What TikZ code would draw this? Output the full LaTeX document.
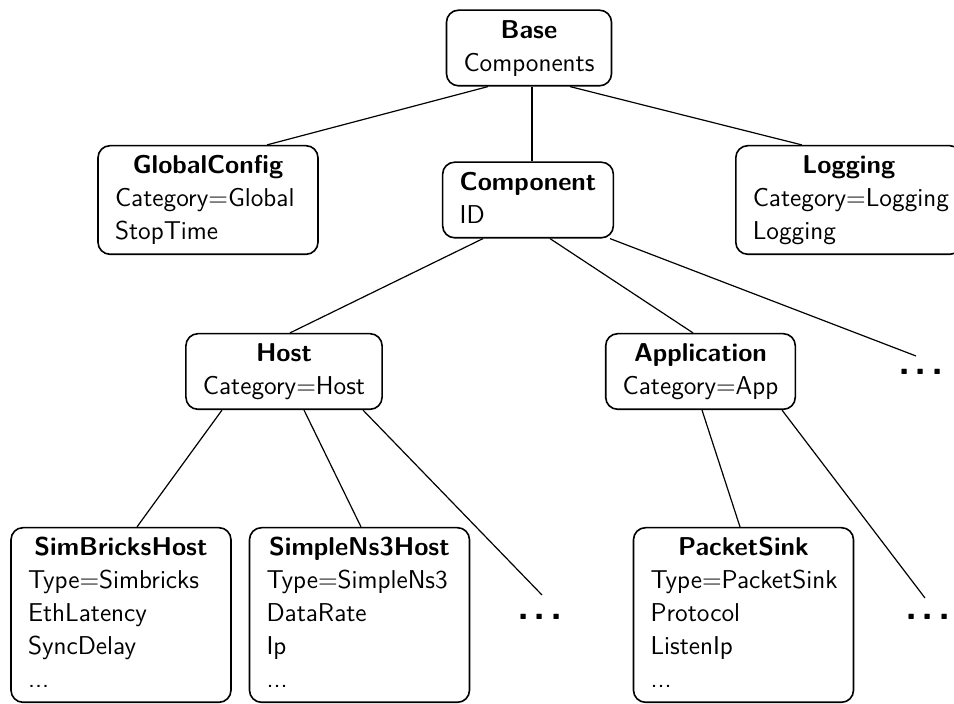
\documentclass[tikz,border=0pt]{standalone}
\usetikzlibrary{calc}
\newcommand{\mytab}[2]{\begin{tabular}{@{}#1@{}}#2\end{tabular}}
\newcommand{\mytitle}[1]{\multicolumn{1}{@{}c@{}}{\bfseries #1}}
\newcommand{\bigdotsx}{.\kern2.1pt.\kern2.1pt.}
\begin{document}
\begin{tikzpicture}[x=0.5pt,y=-0.5pt,
  box/.style={draw, rounded corners=6pt, line width=0.8pt, inner xsep=8.5pt, inner ysep=2.4pt,
    font=\sffamily\fontsize{12.9}{16.5}\selectfont},
  bigdots/.style={inner sep=0pt, font=\sffamily\bfseries\fontsize{20}{24}\selectfont},
  edge/.style={line width=0.6pt}]
\clip (0,0) rectangle (954,704);
\node[box] (base) at (529,48) {\mytab{l}{\mytitle{Base}\\Components}};
\node[box] (gc) at (208,200) {\mytab{p{93pt}}{\mytitle{GlobalConfig}\\Category=Global\\StopTime}};
\node[box] (comp) at (528,200) {\mytab{l}{\mytitle{Component}\\ID}};
\node[box] (log) at (848.8,200) {\mytab{p{96pt}}{\mytitle{Logging}\\Category=Logging\\Logging}};
\node[box] (host) at (284,371.5) {\mytab{l}{\mytitle{Host}\\Category=Host}};
\node[box] (app) at (700.5,371.5) {\mytab{l}{\mytitle{Application}\\Category=App}};
\node[bigdots] (d0) at (921,372) {\bigdotsx};
\node[box] (sb) at (121,615) {\mytab{p{93pt}}{\mytitle{SimBricksHost}\\Type=Simbricks\\EthLatency\\SyncDelay\\...}};
\node[box] (sn) at (359.5,615) {\mytab{p{93pt}}{\mytitle{SimpleNs3Host}\\Type=SimpleNs3\\DataRate\\Ip\\...}};
\node[bigdots] (d1) at (540,617) {\bigdotsx};
\node[box] (ps) at (743.5,615) {\mytab{p{93pt}}{\mytitle{PacketSink}\\Type=PacketSink\\Protocol\\ListenIp\\...}};
\node[bigdots] (d2) at (928,617) {\bigdotsx};
\draw[edge] ($(base.south)+(-41,0)$) -- ($(gc.north)+(59,0)$);
\draw[edge] ($(base.south)+(3,0)$) -- ($(comp.north)+(4,0)$);
\draw[edge] ($(base.south)+(41,0)$) -- ($(log.north)+(-47,0)$);
\draw[edge] ($(comp.south)+(-45,0)$) -- ($(host.north)+(6,0)$);
\draw[edge] ($(comp.south)+(22,0)$) -- ($(app.north)+(-7.5,0)$);
\draw[edge] ($(comp.south)+(82,0)$) -- ($(d0.center)+(-5,-16)$);
\draw[edge] ($(host.south)+(-62,0)$) -- ($(sb.north)+(16,0)$);
\draw[edge] ($(host.south)+(20,0)$) -- ($(sn.north)+(1.5,0)$);
\draw[edge] ($(host.south)+(79,0)$) -- ($(d1.center)+(2,-22)$);
\draw[edge] ($(app.south)+(1.5,0)$) -- ($(ps.north)+(-3.5,0)$);
\draw[edge] ($(app.south)+(81.5,0)$) -- ($(d2.center)+(-3,-19)$);
\end{tikzpicture}
\end{document}
